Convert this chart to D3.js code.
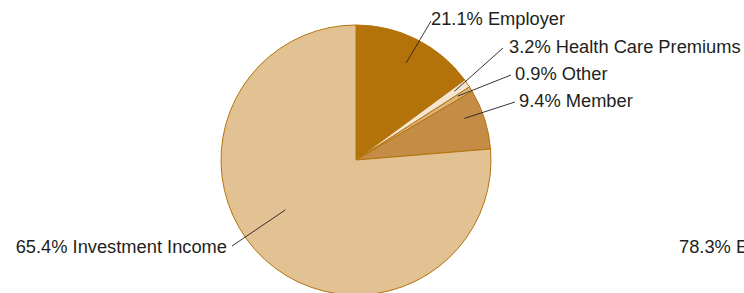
<!DOCTYPE html>
<html>
<head>
<meta charset="utf-8">
<script src="https://cdn.jsdelivr.net/npm/d3@7"></script>
<style>
  body { margin: 0; background: #fff; overflow: hidden; }
  text { font-family: "Liberation Sans", Arial, Helvetica, sans-serif; fill: #231f20; }
</style>
</head>
<body>
<div id="chart"></div>
<script>
var categories = ["Employer", "Health Care Premiums", "Other", "Member", "Investment Income"],
	sliceValues = [14.9, 1.0, 0.6, 7.2, 76.3],
	labelPercents = ["21.1%", "3.2%", "0.9%", "9.4%", "65.4%"],
	colors = ["#b4730a", "#f4e5d0", "#dcb57e", "#c48c45", "#e2c193"],
	// second pie label, cut off at the right edge
	sideLabel = "78.3% Employer";

var width = 744,
	height = 293,
	cx = 356,
	cy = 160,
	radius = 135;

// label anchors: text x, baseline y, leader end, inner point (radius factor, fraction along slice)
var labelLayout = [
	{ tx: 431, ty: 25,  lx: 431, ly: 21,  rf: 0.81, af: 0.51, side: "start" },
	{ tx: 509, ty: 53,  lx: 503, ly: 48,  rf: 0.89, af: 0.4,  side: "start" },
	{ tx: 515, ty: 80,  lx: 511, ly: 75,  rf: 0.89, af: 0.3,  side: "start" },
	{ tx: 519, ty: 107, lx: 515, ly: 102, rf: 0.86, af: 0.37, side: "start" },
	{ tx: 227, ty: 253, lx: 232, ly: 246, rf: 0.64, af: 0.544, side: "end" }
];

var svg = d3.select("#chart").append("svg")
	.attr("width", width)
	.attr("height", height);

var pie = d3.pie()
	.sort(null)
	.value(function(d) { return d; });

var arcs = pie(sliceValues);

var arc = d3.arc()
	.innerRadius(0)
	.outerRadius(radius);

var g = svg.append("g")
	.attr("transform", "translate(" + cx + "," + cy + ")");

g.selectAll("path")
	.data(arcs)
	.enter().append("path")
	.attr("d", arc)
	.style("fill", function(d, i) { return colors[i]; })
	.style("stroke", "#b4730a")
	.style("stroke-width", 1)
	.style("stroke-linejoin", "round");

function innerPoint(d, i) {
	var l = labelLayout[i];
	var a = d.startAngle + (d.endAngle - d.startAngle) * l.af;
	return [cx + Math.sin(a) * radius * l.rf, cy - Math.cos(a) * radius * l.rf];
}

// leader lines
svg.append("g").selectAll("line")
	.data(arcs)
	.enter().append("line")
	.attr("x1", function(d, i) { return innerPoint(d, i)[0]; })
	.attr("y1", function(d, i) { return innerPoint(d, i)[1]; })
	.attr("x2", function(d, i) { return labelLayout[i].lx; })
	.attr("y2", function(d, i) { return labelLayout[i].ly; })
	.style("stroke", "#231f20")
	.style("stroke-width", 0.9);

// labels
svg.append("g").selectAll("text")
	.data(categories)
	.enter().append("text")
	.attr("x", function(d, i) { return labelLayout[i].tx; })
	.attr("y", function(d, i) { return labelLayout[i].ty; })
	.attr("text-anchor", function(d, i) { return labelLayout[i].side; })
	.style("font-size", "18.3px")
	.text(function(d, i) { return labelPercents[i] + " " + d; });

svg.append("text")
	.attr("x", 679)
	.attr("y", 253)
	.style("font-size", "18.3px")
	.text(sideLabel);
</script>
</body>
</html>
